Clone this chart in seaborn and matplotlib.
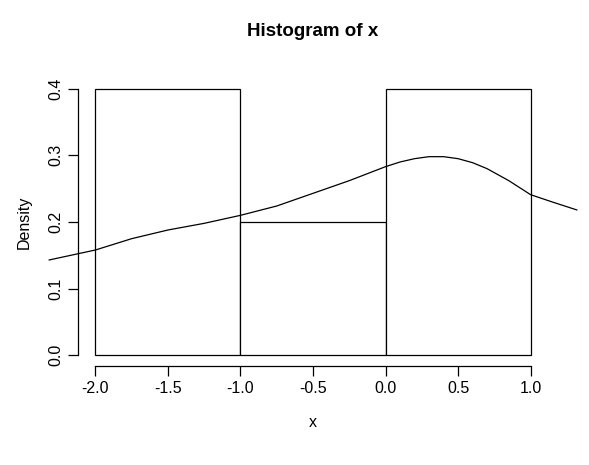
import numpy as np
import seaborn as sns
import matplotlib
matplotlib.use("Agg")
from matplotlib import pyplot as plt

# histogram bins and densities
bin_edges = [-2.0, -1.0, 0.0, 1.0]
bin_density = [0.4, 0.2, 0.4]

# density curve
curve_x = [-2.32, -2.0, -1.75, -1.5, -1.25, -1.0, -0.75, -0.5, -0.25, 0.0,
           0.1, 0.2, 0.3, 0.4, 0.5, 0.6, 0.7, 0.85, 1.0, 1.15, 1.32]
curve_y = [0.143, 0.158, 0.175, 0.188, 0.198, 0.21, 0.224, 0.243, 0.262, 0.283,
           0.29, 0.295, 0.298, 0.298, 0.295, 0.289, 0.28, 0.262, 0.241, 0.23, 0.218]

sns.set_style("white")
plt.rcParams["font.family"] = ["Liberation Sans", "DejaVu Sans"]
plt.rcParams["text.color"] = "black"
plt.rcParams["axes.labelcolor"] = "black"

f = plt.figure(figsize=(5.89, 4.65), dpi=100)
ax = f.add_axes([78 / 589, 99 / 465, 470 / 589, 288 / 465])

widths = np.diff(bin_edges)
ax.bar(bin_edges[:-1], bin_density, width=widths, align="edge",
       facecolor="white", edgecolor="black", linewidth=0.9)
ax.plot(curve_x, curve_y, color="black", linewidth=0.9, clip_on=False)

ax.set_xlim(-2.12, 1.12)
ax.set_ylim(-0.016, 0.416)
ax.set_xticks([-2.0, -1.5, -1.0, -0.5, 0.0, 0.5, 1.0])
ax.set_xticklabels(["-2.0", "-1.5", "-1.0", "-0.5", "0.0", "0.5", "1.0"])
ax.set_yticks([0.0, 0.1, 0.2, 0.3, 0.4])
ax.set_yticklabels(["0.0", "0.1", "0.2", "0.3", "0.4"])

for s in ["top", "right"]:
    ax.spines[s].set_visible(False)
ax.spines["bottom"].set_bounds(-2.0, 1.0)
ax.spines["left"].set_bounds(0.0, 0.4)
for s in ["bottom", "left"]:
    ax.spines[s].set_color("black")
    ax.spines[s].set_linewidth(0.9)
ax.tick_params(axis="both", direction="out", length=7, width=0.9,
               colors="black", labelsize=11.5, bottom=True, left=True)
for lab in ax.get_yticklabels():
    lab.set_rotation(90)
    lab.set_va("center")

ax.set_xlabel("x", fontsize=11.5, labelpad=14)
ax.set_ylabel("Density", fontsize=11.5, labelpad=12)
ax.set_title("Histogram of x", fontsize=13.5, fontweight="bold", pad=30)

f.savefig("out.png", dpi=100)
